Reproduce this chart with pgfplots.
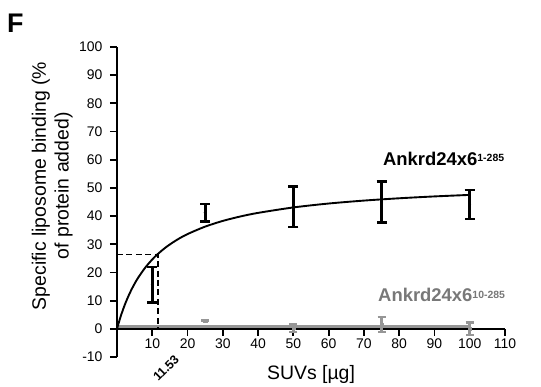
\documentclass[border=0pt]{standalone}
\usepackage{pgfplots}
\pgfplotsset{compat=1.18}
\usepackage{fontspec}
\setmainfont{Liberation Sans}
\definecolor{graytxt}{RGB}{120,120,120}
\definecolor{grayln}{RGB}{150,150,150}
\begin{document}
\begin{tikzpicture}
\begin{axis}[
  name=ax,
  scale only axis,
  width=388bp, height=310bp,
  xmin=0, xmax=110, ymin=-10, ymax=100,
  axis x line=middle, axis y line=left,
  axis line style={-, line width=1.8pt, black},
  hide obscured x ticks=false, hide obscured y ticks=false,
  xtick={10,20,...,110}, ytick={-10,0,...,100},
  tick align=outside,
  major tick length=7bp,
  tick style={line width=1.8pt, black},
  /pgf/number format/assume math mode=true,
  ticklabel style={font=\fontsize{14}{14}\selectfont},
  yticklabel style={xshift=-4bp},
  xticklabel style={yshift=1bp},
  xlabel={SUVs [µg]},
  xlabel style={at={(axis description cs:0.5,0)}, anchor=north, yshift=-5bp, font=\fontsize{19.5}{22}\selectfont},
  ylabel={Specific liposome binding (\%\\of protein added)},
  ylabel style={at={(axis description cs:-0.105,0.552)}, anchor=south, rotate=0, align=center, font=\fontsize{19.5}{23}\selectfont},
  clip=false,
]
% gray flat line (Ankrd24x6 10-285)
\addplot[grayln, line width=3pt] coordinates {(0,0.7) (100,0.7)};
% gray data
\addplot[grayln, only marks, mark=square*, mark size=1.6pt,
  error bars/.cd, y dir=both, y explicit,
  error bar style={line width=2.6pt, grayln},
  error mark options={rotate=90, mark size=4pt, line width=2.4pt, grayln}]
  coordinates {(25,2.9) +- (0,0) (50,0.3) +- (0,1.5) (75,1.6) +- (0,2.7) (100,0) +- (0,2.2)};
% fitted hyperbola (Ankrd24x6 1-285)
\addplot[black, line width=1.9pt, smooth] coordinates {
 (0,0) (1,4.23) (2,7.83) (3,10.94) (4,13.65) (5,16.03) (6,18.14) (8,21.71)
 (10,24.62) (11.53,26.5) (14,29.06) (17,31.58) (20,33.62) (25,36.27) (30,38.29)
 (35,39.87) (40,41.14) (50,43.07) (60,44.46) (70,45.50) (80,46.32) (90,46.98) (100,47.52)};
% dashed guide
\addplot[black, line width=1.8pt, dash pattern=on 6pt off 3.5pt] coordinates {(0,26.4) (11.53,26.4) (11.53,0)};
% black data
\addplot[black, only marks, mark=*, mark size=1.2pt,
  error bars/.cd, y dir=both, y explicit,
  error bar style={line width=2.8pt, black},
  error mark options={rotate=90, mark size=5pt, line width=2.6pt, black}]
  coordinates {(10,15.7) +- (0,6.3) (25,41.2) +- (0,3.1) (50,43.3) +- (0,7.1) (75,45.0) +- (0,7.3) (100,44.1) +- (0,5.2)};
\node[rotate=45, font=\fontsize{12.5}{12.5}\selectfont\bfseries, inner sep=0] at (axis cs:13.9,-13.9) {11.53};
\node[anchor=base west, inner sep=0, font=\fontsize{18.5}{18.5}\selectfont\bfseries] at (axis cs:75.4,58.1)
  {Ankrd24x6\raisebox{3.5pt}{\fontsize{10.5}{10.5}\selectfont 1-285}};
\node[anchor=base west, inner sep=0, text=graytxt, font=\fontsize{18.5}{18.5}\selectfont\bfseries] at (axis cs:74.0,9.6)
  {Ankrd24x6\raisebox{3.5pt}{\fontsize{10.5}{10.5}\selectfont 10-285}};
\end{axis}
\node[anchor=base west, inner sep=0, font=\fontsize{27}{27}\selectfont\bfseries] at ([shift={(-110bp,324bp)}]ax.south west) {F};
\pgfresetboundingbox
\path ([shift={(-117bp,-30bp)}]ax.south west) rectangle ([shift={(424bp,357bp)}]ax.south west);
\end{tikzpicture}
\end{document}
